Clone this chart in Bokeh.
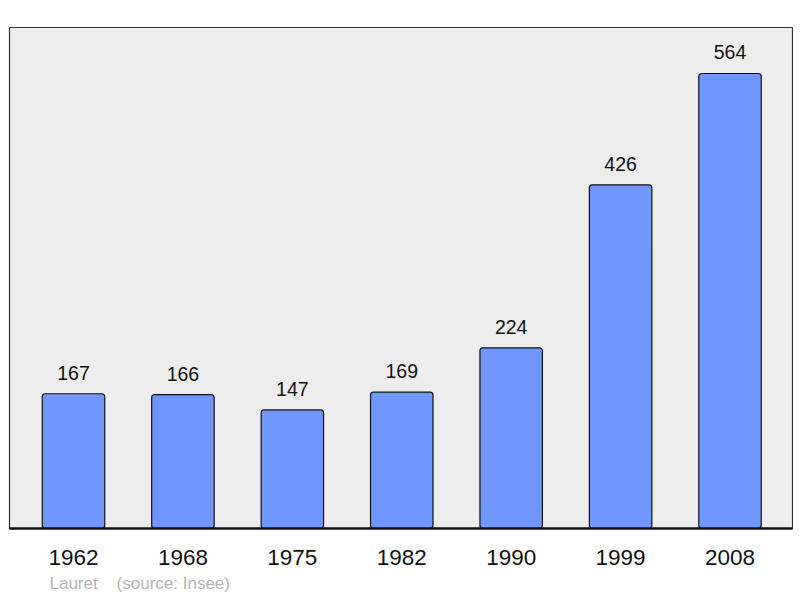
from bokeh.plotting import figure
from bokeh.models import Range1d, FixedTicker, Title, ColumnDataSource
from bokeh.core.properties import value
from bokeh.embed import file_html
from bokeh.resources import INLINE

years = ["1962", "1968", "1975", "1982", "1990", "1999", "2008"]
population = [167, 166, 147, 169, 224, 426, 564]
footer = "Lauret\u00a0\u00a0\u00a0\u00a0(source: Insee)"

xs = list(range(len(years)))
src = ColumnDataSource(dict(x=xs, top=population, label=[str(v) for v in population]))

p = figure(frame_width=783, frame_height=501, output_backend="svg", toolbar_location=None,
           x_range=Range1d(-0.585, 6.571), y_range=Range1d(0, 621),
           min_border_left=9, min_border_right=1, min_border_top=27, min_border_bottom=0)
p.background_fill_color = "#ededed"
p.border_fill_color = "white"
p.outline_line_color = "#333333"
p.outline_line_width = 1.2
p.grid.visible = False
p.yaxis.visible = False

p.vbar(x="x", top="top", bottom=0, width=0.571, source=src,
       fill_color="#7096ff", line_color="#111111", line_width=1.2, border_radius=3)
p.text(x="x", y="top", text="label", source=src, y_offset=-14,
       text_align="center", text_baseline="bottom",
       text_font=value("Liberation Sans"), text_font_size="19.5px", text_color="#111111")

ax = p.xaxis[0]
ax.ticker = FixedTicker(ticks=xs)
ax.major_label_overrides = {i: y for i, y in enumerate(years)}
ax.major_label_text_font = "Liberation Sans"
ax.major_label_text_font_size = "22.5px"
ax.major_label_text_color = "#111111"
ax.major_label_standoff = 15
ax.major_tick_line_color = None
ax.minor_tick_line_color = None
ax.axis_line_color = "#111111"
ax.axis_line_width = 2.5

t = Title(text=footer, align="left", offset=40, text_font="Liberation Sans",
          text_font_size="17px", text_font_style="normal", text_color="#b4b4b4",
          standoff=8)
p.add_layout(t, "below")

open("out.html", "w").write(file_html(p, INLINE))
